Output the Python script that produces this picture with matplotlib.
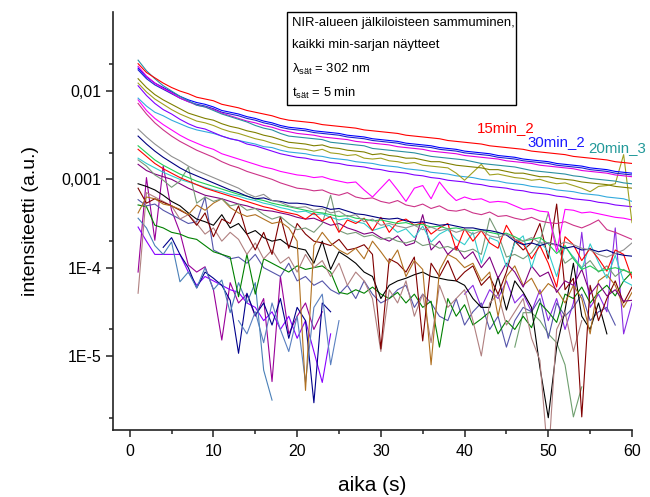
import numpy as np
import matplotlib
matplotlib.use("Agg")
import matplotlib.pyplot as plt
from matplotlib.patches import Rectangle
from matplotlib.ticker import FixedLocator, FixedFormatter, MultipleLocator

plt.rcParams["font.family"] = ["Liberation Sans", "DejaVu Sans"]
plt.rcParams["mathtext.fontset"] = "custom"
plt.rcParams["mathtext.rm"] = "Liberation Sans"
plt.rcParams["mathtext.it"] = "Liberation Sans:italic"

# time axis (s)
aika = np.arange(1, 61)

# log10 of intensity (a.u.), one value per second; None = no point
s15min_2 = [-1.69, -1.79, -1.85, -1.91, -1.96, -2.00, -2.03, -2.07, -2.09, -2.11,
            -2.15, -2.17, -2.19, -2.22, -2.24, -2.26, -2.28, -2.31, -2.33, -2.34,
            -2.35, -2.36, -2.38, -2.39, -2.40, -2.41, -2.42, -2.44, -2.45, -2.46,
            -2.47, -2.48, -2.50, -2.51, -2.52, -2.53, -2.54, -2.56, -2.57, -2.58,
            -2.59, -2.60, -2.62, -2.63, -2.64, -2.65, -2.66, -2.68, -2.69, -2.70,
            -2.71, -2.72, -2.74, -2.75, -2.76, -2.77, -2.78, -2.80, -2.81, -2.82]
s20min_3 = [-1.65, -1.77, -1.86, -1.94, -2.00, -2.06, -2.11, -2.16, -2.18, -2.22,
            -2.26, -2.29, -2.32, -2.35, -2.39, -2.42, -2.44, -2.48, -2.51, -2.52,
            -2.53, -2.54, -2.55, -2.58, -2.59, -2.60, -2.61, -2.62, -2.65, -2.66,
            -2.67, -2.68, -2.69, -2.70, -2.72, -2.74, -2.75, -2.76, -2.77, -2.78,
            -2.80, -2.82, -2.83, -2.84, -2.85, -2.86, -2.88, -2.90, -2.91, -2.92,
            -2.93, -2.94, -2.96, -2.97, -2.99, -3.00, -3.01, -3.02, -3.04, -3.05]
s30min_2 = [-1.74, -1.84, -1.91, -1.96, -2.01, -2.06, -2.10, -2.13, -2.15, -2.18,
            -2.22, -2.24, -2.26, -2.29, -2.31, -2.34, -2.36, -2.39, -2.41, -2.42,
            -2.43, -2.45, -2.46, -2.47, -2.48, -2.50, -2.51, -2.52, -2.54, -2.55,
            -2.56, -2.57, -2.59, -2.60, -2.61, -2.62, -2.64, -2.65, -2.66, -2.68,
            -2.69, -2.70, -2.71, -2.73, -2.74, -2.75, -2.77, -2.78, -2.79, -2.80,
            -2.82, -2.83, -2.84, -2.85, -2.87, -2.88, -2.89, -2.91, -2.92, -2.93]
magenta_a = [-1.72, -1.83, -1.91, -1.97, -2.02, -2.08, -2.12, -2.16, -2.18, -2.21,
             -2.25, -2.28, -2.31, -2.34, -2.36, -2.39, -2.41, -2.44, -2.46, -2.48,
             -2.49, -2.50, -2.52, -2.53, -2.54, -2.55, -2.57, -2.58, -2.59, -2.60,
             -2.61, -2.63, -2.64, -2.65, -2.66, -2.68, -2.69, -2.70, -2.71, -2.73,
             -2.74, -2.75, -2.76, -2.77, -2.79, -2.80, -2.81, -2.82, -2.84, -2.85,
             -2.86, -2.87, -2.88, -2.90, -2.91, -2.92, -2.93, -2.95, -2.96, -2.97]
royal_a = [-1.76, -1.86, -1.93, -1.98, -2.03, -2.08, -2.12, -2.15, -2.17, -2.20,
           -2.24, -2.26, -2.28, -2.31, -2.33, -2.36, -2.38, -2.41, -2.43, -2.44,
           -2.45, -2.47, -2.48, -2.49, -2.50, -2.52, -2.53, -2.54, -2.56, -2.57,
           -2.58, -2.59, -2.61, -2.62, -2.63, -2.64, -2.66, -2.67, -2.68, -2.70,
           -2.71, -2.72, -2.73, -2.75, -2.76, -2.77, -2.79, -2.80, -2.81, -2.82,
           -2.84, -2.85, -2.86, -2.87, -2.89, -2.90, -2.91, -2.93, -2.94, -2.95]
olive_a = [-1.86, -1.96, -2.04, -2.10, -2.15, -2.20, -2.25, -2.28, -2.31, -2.33,
           -2.37, -2.40, -2.42, -2.45, -2.47, -2.50, -2.52, -2.55, -2.58, -2.59,
           -2.60, -2.62, -2.61, -2.64, -2.65, -2.67, -2.68, -2.69, -2.72, -2.71,
           -2.73, -2.74, -2.76, -2.76, -2.78, -2.80, -2.80, -2.82, -2.84, -2.85,
           -2.86, -2.87, -2.89, -2.89, -2.91, -2.93, -2.93, -2.95, -2.97, -2.97,
           -2.99, -3.00, -3.01, -3.03, -3.04, -3.05, -3.06, -3.08, -3.09, -3.10]
olive_b = [-1.91, -2.01, -2.09, -2.15, -2.21, -2.26, -2.30, -2.34, -2.36, -2.39,
           -2.43, -2.46, -2.48, -2.51, -2.54, -2.56, -2.59, -2.61, -2.64, -2.65,
           -2.66, -2.68, -2.66, -2.70, -2.71, -2.73, -2.72, -2.76, -2.77, -2.76,
           -2.79, -2.80, -2.82, -2.81, -2.84, -2.85, -2.86, -2.87, -2.93, -3.01,
           -2.92, -2.83, -2.95, -2.94, -2.96, -2.98, -2.99, -3.01, -3.00, -3.03,
           -3.05, -3.04, -3.07, -3.10, -3.14, -3.08, -3.07, -3.05, -2.72, -3.49]
violet_a = [-1.94, -2.05, -2.14, -2.21, -2.26, -2.32, -2.37, -2.41, -2.43, -2.47,
            -2.51, -2.54, -2.56, -2.60, -2.62, -2.65, -2.68, -2.71, -2.73, -2.75,
            -2.76, -2.78, -2.79, -2.81, -2.82, -2.84, -2.85, -2.86, -2.88, -2.89,
            -2.91, -2.92, -2.93, -2.95, -2.96, -2.98, -2.99, -3.01, -3.02, -3.03,
            -3.05, -3.06, -3.08, -3.09, -3.10, -3.12, -3.13, -3.15, -3.16, -3.17,
            -3.19, -3.20, -3.22, -3.23, -3.24, -3.26, -3.27, -3.29, -3.30, -3.31]
cyan_a = [-2.08, -2.17, -2.24, -2.28, -2.33, -2.37, -2.41, -2.44, -2.46, -2.48,
          -2.51, -2.54, -2.56, -2.58, -2.60, -2.63, -2.64, -2.67, -2.69, -2.70,
          -2.71, -2.73, -2.74, -2.76, -2.77, -2.78, -2.80, -2.81, -2.82, -2.84,
          -2.85, -2.86, -2.88, -2.89, -2.90, -2.92, -2.93, -2.94, -2.96, -2.97,
          -2.98, -3.00, -3.01, -3.02, -3.04, -3.05, -3.06, -3.08, -3.09, -3.10,
          -3.12, -3.13, -3.14, -3.16, -3.17, -3.18, -3.20, -3.21, -3.22, -3.25]
fuchsia_b = [-2.10, -2.22, -2.31, -2.38, -2.44, -2.50, -2.55, -2.59, -2.63, -2.66,
             -2.71, -2.74, -2.77, -2.80, -2.83, -2.86, -2.88, -2.91, -2.93, -2.95,
             -2.96, -2.98, -2.97, -3.00, -3.02, -3.04, -3.03, -3.12, -3.20, -3.10,
             -3.00, -3.12, -3.25, -3.10, -3.07, -3.22, -3.03, -3.15, -3.24, -3.20,
             -3.23, -3.22, -3.26, -3.25, -3.26, -3.30, -3.34, -3.33, -3.36, -3.37,
             -3.82, -3.34, -3.35, -3.38, -3.37, -3.39, -3.41, -3.43, -3.44, -3.46]
pink_c = [-2.14, -2.26, -2.36, -2.44, -2.51, -2.57, -2.62, -2.67, -2.71, -2.75,
          -2.80, -2.84, -2.87, -2.91, -2.94, -2.97, -3.00, -3.04, -3.07, -3.10,
          -3.11, -3.13, -3.12, -3.16, -3.18, -3.15, -3.20, -3.22, -3.21, -3.25,
          -3.27, -3.24, -3.29, -3.31, -3.28, -3.33, -3.30, -3.35, -3.36, -3.34,
          -3.38, -3.40, -3.37, -3.42, -3.41, -3.44, -3.46, -3.43, -3.47, -3.49,
          -3.50, -3.48, -3.52, -3.55, -3.51, -3.46, -3.57, -3.60, -3.64, -3.68]
gray_a = [-2.43, -2.52, -2.60, -2.67, -2.74, -2.79, -2.85, -2.90, -2.94, -2.98,
          -3.02, -3.06, -3.10, -3.16, -3.20, -3.17, -3.24, -3.26, -3.30, -3.32,
          -3.31, -3.35, -3.33, -3.38, -3.36, -3.42, -3.40, -3.48, -3.45, -3.52,
          -3.50, -3.53, -3.55, -3.52, -3.57, -3.54, -3.58, -3.56, -3.60, -3.57,
          -3.62, -3.58, -3.64, -3.66, -3.62, -3.68, -3.70, -3.66, -3.72, -3.72,
          -3.75, -3.71, -3.74, -3.78, -3.80, -3.85, -3.88, -3.84, -3.80, -3.72]
navy_a = [-2.51, -2.60, -2.68, -2.75, -2.81, -2.87, -2.92, -2.96, -3.00, -3.04,
          -3.08, -3.12, -3.15, -3.19, -3.22, -3.21, -3.24, -3.25, -3.27, -3.27,
          -3.28, -3.30, -3.31, -3.34, -3.33, -3.36, -3.39, -3.40, -3.42, -3.44,
          -3.45, -3.44, -3.47, -3.49, -3.48, -3.50, -3.52, -3.51, -3.53, -3.55,
          -3.55, -3.57, -3.58, -3.60, -3.63, -3.70, -3.74, -3.72, -3.75, -3.72,
          -3.74, -3.78, -3.76, -3.80, -3.79, -3.82, -3.80, -3.84, -3.86, -3.87]
green_a = [-2.62, -2.70, -2.78, -2.84, -2.89, -2.94, -2.98, -3.02, -3.05, -3.08,
           -3.11, -3.14, -3.17, -3.19, -3.22, -3.24, -3.27, -3.29, -3.31, -3.33,
           -3.35, -3.37, -3.38, -3.40, -3.42, -3.41, -3.44, -3.45, -3.47, -3.46,
           -3.48, -3.50, -3.49, -3.52, -3.51, -3.54, -3.53, -3.56, -3.55, -3.57,
           -3.58, -3.57, -3.60, -3.62, -3.61, -3.65, -3.70, -3.68, -3.66, -3.73,
           -3.84, -3.75, -3.90, -4.02, -3.98, -4.04, -4.02, -4.00, -4.03, -4.06]
red_b = [-2.66, -2.74, -2.82, -2.88, -2.93, -2.98, -3.02, -3.06, -3.10, -3.13,
         -3.16, -3.19, -3.22, -3.25, -3.28, -3.31, -3.33, -3.36, -3.38, -3.40,
         -3.45, -3.38, -3.47, -3.42, -3.60, -3.46, -3.50, -3.44, -3.58, -3.43,
         -3.60, -3.48, -3.45, -3.52, -3.49, -3.62, -3.55, -3.50, -3.80, -3.56,
         -3.70, -3.58, -3.72, -3.78, -3.52, -3.68, -3.73, -3.90, -3.75, -3.95,
         -4.22, -3.65, -3.74, -3.92, -3.78, -3.90, -4.04, -3.80, -3.85, -4.12]
turq_a = [-2.76, -2.82, -2.87, -2.92, -2.96, -3.00, -3.03, -3.06, -3.09, -3.12,
          -3.14, -3.17, -3.19, -3.22, -3.24, -3.27, -3.29, -3.32, -3.34, -3.37,
          -3.36, -3.40, -3.39, -3.43, -3.46, -3.44, -3.48, -3.50, -3.58, -3.55,
          -3.52, -3.60, -3.56, -3.66, -3.53, -3.71, -3.62, -3.57, -3.68, -3.74,
          -3.60, -3.95, -3.66, -3.70, -3.99, -3.72, -3.64, -4.00, -3.70, -3.82,
          -4.10, -3.76, -3.88, -4.02, -3.73, -3.94, -4.12, -3.86, -4.15, -4.20]
sage_a = [-2.78, -2.85, -2.95, -3.01, -3.09, -3.02, -2.86, -3.27, -3.20, -3.25,
          -3.22, -3.30, -3.28, -3.35, -3.33, -3.40, -3.45, -3.42, -3.50, -3.57,
          -3.55, -3.60, -3.50, -3.18, -3.58, -3.62, -3.60, -3.65, -3.63, -3.68,
          -3.66, -3.70, -3.72, -3.69, -3.75, -3.73, -3.78, -3.76, -3.80, -3.82,
          -3.79, -3.85, -3.44, -3.62, -3.88, -3.85, -3.90, -3.83, -3.70, -3.38,
          -3.75, -3.95, -3.88, -4.00, -3.92, -4.05, -3.98, -4.10, -4.02, -4.08]
purple_a = [-2.83, -2.90, -2.94, -2.97, -3.00, -3.05, -3.10, -3.14, -3.18, -3.20,
            -3.22, -3.25, -3.28, -3.30, -3.33, -3.35, -3.36, -3.38, -3.40, -3.43,
            -3.45, -3.44, -3.48, -3.52, -3.50, -3.55, -3.58, -3.62, -3.60, -3.66,
            -3.70, -3.64, -3.75, -3.72, -3.40, -3.80, -3.70, -3.85, -3.76, -3.90,
            -3.82, -4.00, -3.88, -4.12, -3.95, -4.05, -4.22, -3.98, -4.10, -4.05,
            -4.28, -4.15, -4.20, -4.02, -4.30, -4.18, -4.32, -4.25, -4.38, -4.37]
brown_a = [-3.38, -3.20, -3.22, -3.28, -3.30, -3.34, -3.40, -3.29, -3.35, -3.27,
           -3.22, -3.32, -3.38, -3.42, -3.40, -3.45, -3.50, -3.48, -3.55, -3.70,
           -5.39, -3.75, -3.60, -3.72, -3.80, -3.85, -3.78, -3.90, -3.70, -3.82,
           -3.95, -3.80, -4.10, -3.92, -4.02, -5.10, -4.03, -3.85, -3.90, -4.00,
           -3.95, -4.15, -4.05, -4.55, -4.10, -3.98, -4.20, -4.12, -4.30, -4.18,
           -4.25, -4.40, -4.20, -4.35, -4.75, -4.15, -4.08, -4.20, -4.45, -4.28]
wine_a = [-3.10, -3.27, -3.22, -3.26, -3.30, -3.35, -3.40, -3.52, -3.38, -3.65,
          -3.45, -3.50, -3.30, -3.62, -3.80, -3.60, -3.85, -3.42, -3.78, -3.50,
          -3.62, -3.70, -3.72, -3.75, -3.68, -3.80, -3.78, -3.74, -3.85, -4.92,
          -3.90, -3.95, -4.05, -3.88, -4.83, -3.95, -4.10, -3.92, -4.15, -4.05,
          -3.98, -4.20, -4.10, -4.30, -4.05, -3.70, -3.80, -3.72, -3.50, -3.90,
          -3.28, -4.25, -4.12, -5.69, -4.20, -4.60, -4.35, -4.15, -4.40, -4.22]
rosy_a = [-4.29, -3.15, -3.20, -3.25, -3.30, -3.45, -3.40, -3.50, -3.62, -3.55,
          -3.70, -3.60, -3.68, -3.85, -3.72, -3.90, -3.80, -3.95, -3.88, -4.05,
          -3.85, -4.00, -3.92, -4.10, -3.95, -4.20, -4.05, -4.15, -4.35, -4.95,
          -4.25, -4.40, -4.15, -4.55, -4.30, -4.85, -4.20, -4.45, -4.35, -4.25,
          -4.60, -5.00, -4.40, -4.30, -4.65, -4.50, -4.35, -4.80, -5.05, -6.20,
          -4.70, -4.50, -4.95, -4.60, None, None, None, None, None, None]
black_a = [-3.05, -3.08, -3.12, -3.18, -3.25, -3.30, -3.38, -3.45, -3.48, -3.52,
           -3.40, -3.55, -3.50, -3.62, -3.58, -3.66, -3.70, -3.68, -3.75, -3.78,
           -3.80, -3.95, -3.70, -4.02, -3.82, -3.88, -3.95, -4.05, -4.10, -4.35,
           -4.20, -4.15, -4.12, -4.08, -4.05, -4.10, -4.12, -4.14, -4.15, -4.20,
           -4.35, -4.45, -4.45, -4.10, -4.48, -4.15, -4.28, -4.45, -5.13, -5.70,
           -4.90, -4.48, -3.95, -4.55, -4.70, -4.40, -4.75, None, None, None]
green_b = [-3.29, -3.31, -3.52, -3.55, -3.60, -3.62, -3.66, -3.68, -3.75, -3.82,
           -3.85, -3.88, -4.33, -3.85, -4.30, -3.90, -3.95, -4.00, -4.05, -3.98,
           -4.02, -4.00, -3.98, -4.05, -4.28, -4.30, -4.25, -4.29, -4.22, -4.30,
           -4.35, -4.28, -4.40, -4.30, -4.45, -4.38, -4.90, -4.35, -4.55, -4.42,
           -4.65, -4.58, -4.50, -4.75, -4.60, -4.70, -4.55, -4.68, -4.40, -4.50,
           -4.62, -4.30, -4.35, -4.22, -4.40, -4.28, -4.20, -4.32, -4.15, -4.05]
slate_a = [-3.23, -3.30, -3.28, -3.35, -3.40, -3.45, -3.50, -3.48, -3.20, -3.80,
           -3.85, -3.90, -3.88, -3.95, -3.85, -4.00, -4.05, -4.10, -3.95, -4.15,
           -4.10, -4.20, -4.15, -4.25, -4.30, -4.20, -4.35, -4.15, -4.30, -4.40,
           -4.35, -4.25, -4.20, -4.45, -4.30, -4.40, -4.55, -4.60, -4.35, -4.65,
           -4.50, -4.40, -4.70, -4.55, -4.90, -4.60, -4.45, -4.50, -4.35, -4.80,
           -4.40, -4.55, -4.45, -4.30, -4.60, -4.50, -4.45, -4.65, None, None]
steel_b = [-3.44, -3.55, -3.75, -3.85, -3.71, -4.16, -4.05, -4.23, -4.00, -4.25,
           -4.14, -4.51, -4.17, -4.40, -4.17, -5.16, -5.50, None, None, None,
           None, None, None, None, None, None, None, None, None, None,
           None, None, None, None, None, None, None, None, None, None,
           None, None, None, None, None, None, None, None, None, None,
           None, None, None, None, None, None, None, None, None, None]
steel_c = [None, None, None, None, None, None, None, None, None, None,
           None, None, -4.60, -4.75, -4.50, -4.85, -4.40, -4.70, -4.95, -4.55,
           -5.30, -4.45, -4.30, -5.10, -4.60, None, None, None, None, None,
           None, None, None, None, None, None, None, None, None, None,
           None, None, None, None, None, None, None, None, None, None,
           None, None, None, None, None, None, None, None, None, None]
navy_b = [None, None, None, -3.77, -3.66, -3.85, -4.00, -4.23, -4.05, -4.12,
          -4.20, -4.37, -4.97, -4.29, -4.54, -4.40, -4.65, -4.35, -4.80, -4.45,
          -4.60, -5.53, -4.40, -4.50, None, None, None, None, None, None,
          None, None, None, None, None, None, None, None, None, None,
          None, None, None, None, None, None, None, None, None, None,
          None, None, None, None, None, None, None, None, None, None]
violet_b = [-3.54, -3.70, -3.85, -3.85, -3.85, -3.85, -4.05, -4.20, -4.10, -4.15,
            -4.20, -4.25, -4.28, -4.40, -4.45, -4.60, -4.50, -4.70, -4.55, -4.80,
            -4.60, -4.95, -5.30, -4.75, None, None, None, None, None, None,
            None, None, None, None, None, None, None, None, None, None,
            None, None, None, None, None, None, None, None, None, None,
            None, None, None, None, None, None, None, None, None, None]
purple_b = [-4.05, -2.98, -3.69, -2.85, -3.35, -3.60, -3.97, -4.05, -3.99, -4.25,
            -4.82, -4.17, -4.40, -4.30, -4.55, -4.35, -5.29, -4.10, -4.75, -4.55,
            -4.40, -4.70, -4.50, None, None, None, None, None, None, None,
            None, None, None, None, None, None, None, None, None, None,
            None, None, None, None, None, None, None, None, None, None,
            None, None, None, None, None, None, None, None, None, None]
sage_b = [None, None, None, None, None, None, None, None, None, None,
          None, None, None, None, None, None, None, None, None, None,
          None, None, None, None, None, None, None, None, None, None,
          None, None, None, None, None, None, None, None, None, None,
          None, None, None, None, None, -4.90, -4.51, -4.51, -4.60, -4.75,
          -4.85, -5.10, -5.69, -5.35, None, None, None, None, None, None]
bviolet_a = [None, None, None, None, None, None, None, None, None, None,
             None, None, None, None, None, None, None, None, None, None,
             None, None, None, None, None, None, None, None, None, None,
             None, None, None, None, None, None, None, None, None, -4.30,
             -4.20, -4.45, -4.25, -4.35, -4.15, -4.40, -4.30, -4.50, -4.25, -4.60,
             -4.35, -4.70, -4.40, -3.60, -4.45, -4.30, -4.50, -3.55, -4.75, -4.40]

# drawing order: noisy low series first, smooth upper bundle on top
series = [
    (sage_b, "#6f9f6f"), (bviolet_a, "#8a2be2"), (purple_b, "#990099"),
    (violet_b, "#8800ff"), (navy_b, "#00008b"), (steel_c, "#5a80c0"),
    (steel_b, "#4a80b8"), (slate_a, "#5555aa"), (green_b, "#008000"),
    (black_a, "#000000"), (rosy_a, "#b08080"), (wine_a, "#800000"),
    (brown_a, "#b07020"), (purple_a, "#800080"), (sage_a, "#779977"),
    (turq_a, "#33cccc"), (red_b, "#ff0000"), (green_a, "#22cc55"),
    (navy_a, "#000080"), (gray_a, "#909090"), (pink_c, "#cc3388"),
    (fuchsia_b, "#ff00ff"), (cyan_a, "#33aadd"), (violet_a, "#8000ff"),
    (olive_b, "#a0a020"), (olive_a, "#808000"), (royal_a, "#2020d0"),
    (s30min_2, "#0000ff"), (magenta_a, "#e000e0"), (s20min_3, "#2a8fa0"),
    (s15min_2, "#ff0000"),
]

fig = plt.figure(figsize=(6.5, 4.97), dpi=100)
ax = fig.add_axes([0.1738, 0.1348, 0.7985, 0.841])

for vals, col in series:
    y = 10 ** np.array(vals, dtype=float)
    ax.plot(aika, y, color=col, lw=0.8)

ax.set_yscale("log")
ax.set_xlim(-2, 60)
ax.set_ylim(1.45e-6, 0.0785)

ax.yaxis.set_major_locator(FixedLocator([1e-5, 1e-4, 1e-3, 1e-2]))
ax.yaxis.set_major_formatter(FixedFormatter(["1E-5", "1E-4", "0,001", "0,01"]))
ax.yaxis.set_minor_locator(FixedLocator([2e-6, 2e-5, 2e-4, 2e-3, 2e-2]))
ax.yaxis.set_minor_formatter(FixedFormatter([]))
ax.xaxis.set_major_locator(MultipleLocator(10))
ax.xaxis.set_minor_locator(MultipleLocator(5))

for side in ("top", "right"):
    ax.spines[side].set_visible(False)
for side in ("left", "bottom"):
    ax.spines[side].set_linewidth(1.2)
    ax.spines[side].set_color("#222222")
ax.tick_params(which="major", direction="out", length=5, width=1.1,
               labelsize=11.5, colors="#222222", labelcolor="black")
ax.tick_params(axis="x", which="major", pad=5)
ax.tick_params(which="minor", direction="out", length=3, width=1.1, colors="#222222")

ax.set_xlabel("aika (s)", fontsize=15, labelpad=12)
ax.set_ylabel("intensiteetti (a.u.)", fontsize=14, labelpad=16)

# info box
ax.add_patch(Rectangle((0.335, 0.778), 0.441, 0.2225, transform=ax.transAxes,
                       fill=False, edgecolor="black", lw=1.0, clip_on=False))
box_lines = ["NIR-alueen jälkiloisteen sammuminen,",
             "kaikki min-sarjan näytteet",
             r"$\mathrm{λ}_{\mathrm{sät}}$ = 302 nm",
             r"$\mathrm{t}_{\mathrm{sät}}$ = 5 min"]
for txt, yy in zip(box_lines, [0.973, 0.921, 0.862, 0.805]):
    ax.text(0.345, yy, txt, transform=ax.transAxes, fontsize=9.4,
            ha="left", va="center")

# series labels
ax.text(44.9, 10 ** -2.42, "15min_2", color="#ff0000", fontsize=10.8, ha="center", va="center")
ax.text(51.0, 10 ** -2.58, "30min_2", color="#1a1aff", fontsize=10.8, ha="center", va="center")
ax.text(58.2, 10 ** -2.645, "20min_3", color="#229999", fontsize=10.8, ha="center", va="center")

fig.savefig("out.png", dpi=100)
